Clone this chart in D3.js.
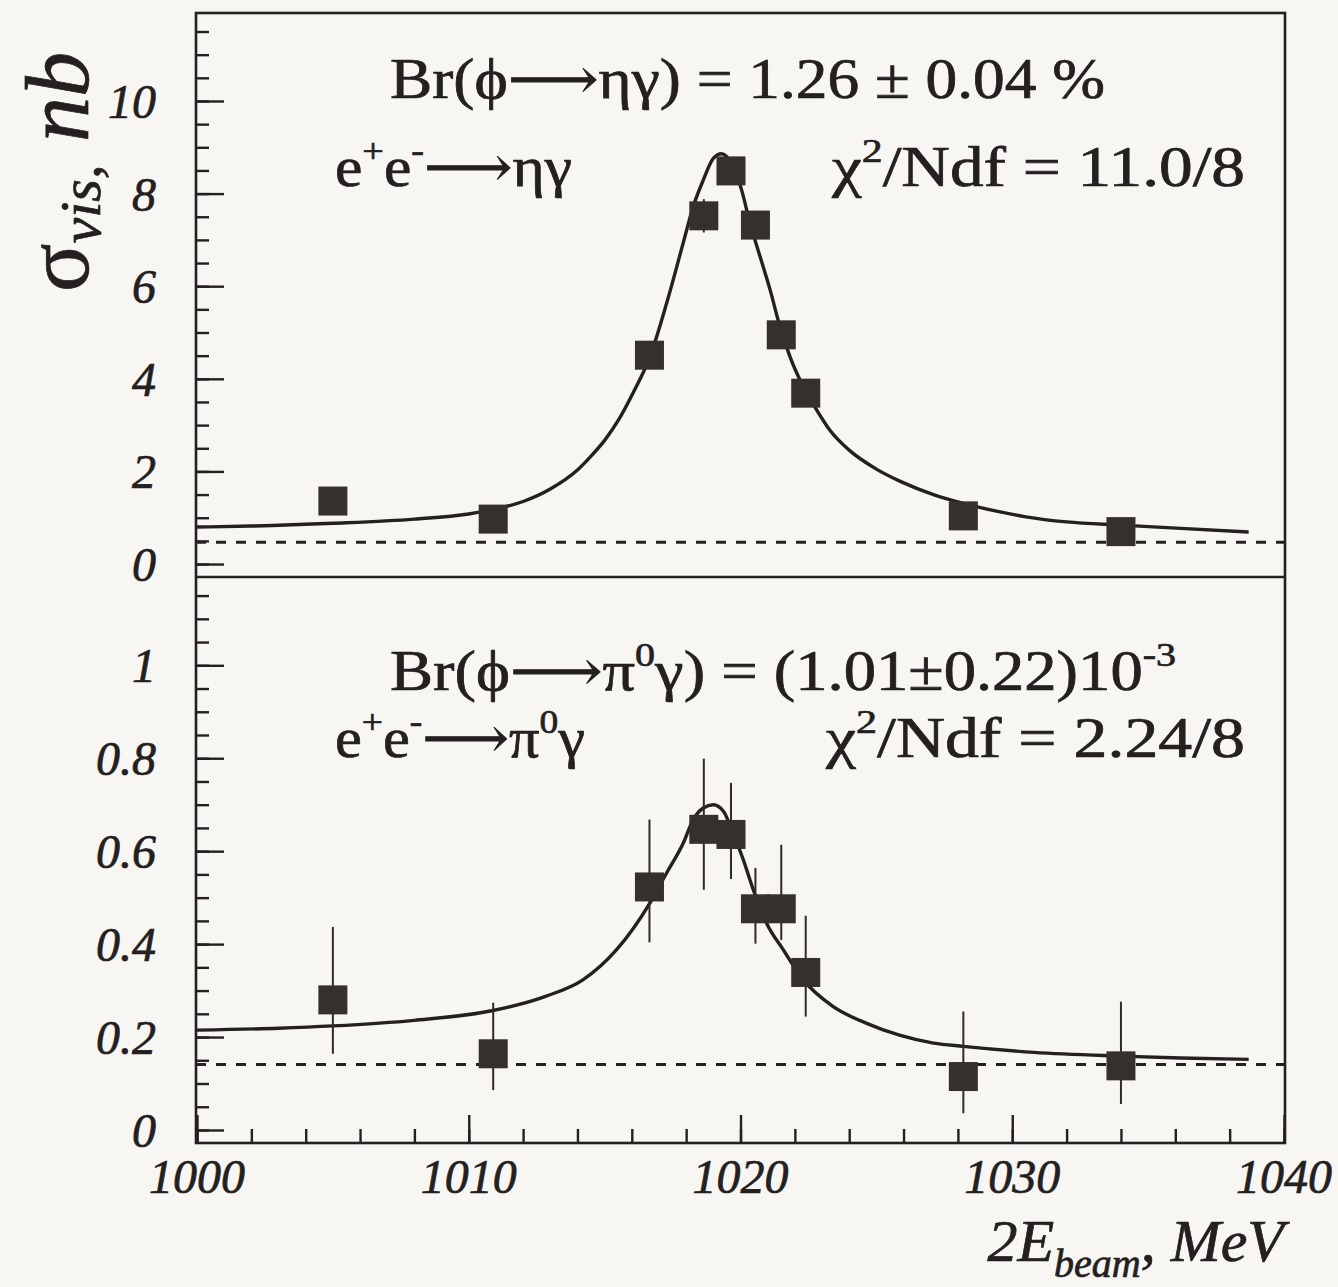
<!DOCTYPE html>
<html lang="en">
	<head>
		<meta charset="utf-8">
		<title>phi -> eta gamma, pi0 gamma visible cross sections</title>
		<script src="https://d3js.org/d3.v7.min.js"></script>
		<style type="text/css">
			body {
				margin: 0;
				background: #f7f6f2;
			}
			svg text {
				font-family: "Liberation Serif", "DejaVu Serif", serif;
				fill: #242020;
				stroke: #242020;
				stroke-width: 0.7px;
			}
		</style>
	</head>
	<body>
		<script type="text/javascript">
			//Beam energy points (2E_beam, MeV), shared by both panels
			var energy = [1005.0, 1010.9, 1016.65, 1018.65, 1019.65, 1020.55, 1021.5, 1022.4, 1028.2, 1034.0];

			//Upper panel, e+e- -> eta gamma (nb)
			var etaSigma = [1.36, 0.97, 4.51, 7.52, 8.49, 7.32, 4.95, 3.69, 1.04, 0.70];
			var etaErr = [0.12, 0.10, 0.20, 0.36, 0.30, 0.30, 0.25, 0.20, 0.10, 0.08];

			//Lower panel, e+e- -> pi0 gamma (nb), error bar ends
			var pi0Sigma = [0.280, 0.164, 0.523, 0.647, 0.636, 0.476, 0.476, 0.339, 0.115, 0.138];
			var pi0Lo = [0.164, 0.086, 0.404, 0.517, 0.540, 0.401, 0.409, 0.244, 0.036, 0.056];
			var pi0Hi = [0.437, 0.274, 0.668, 0.799, 0.747, 0.564, 0.614, 0.461, 0.255, 0.276];

			//Fit curves
			var etaCurveE = [1000, 1002, 1005, 1008, 1010, 1011, 1012, 1013, 1014, 1014.5, 1015, 1015.5, 1016.05, 1016.67, 1017.28, 1017.89, 1018.26, 1018.63, 1019.0, 1019.3, 1019.67, 1020.04, 1020.35, 1020.72, 1021.09, 1021.45, 1021.82, 1022.31, 1022.8, 1023.29, 1024, 1025, 1025.9, 1027.1, 1028.2, 1029.6, 1030.5, 1032, 1034, 1036.2, 1038.7];
			var etaCurveS = [0.80, 0.82, 0.88, 0.97, 1.08, 1.19, 1.35, 1.62, 2.03, 2.33, 2.67, 3.10, 3.70, 4.48, 5.63, 6.93, 7.72, 8.29, 8.76, 8.86, 8.65, 8.08, 7.36, 6.64, 5.92, 5.13, 4.48, 3.83, 3.33, 2.89, 2.46, 2.05, 1.78, 1.50, 1.31, 1.12, 1.02, 0.91, 0.84, 0.77, 0.69];
			var pi0CurveE = [1000, 1003, 1005, 1008, 1010.8, 1012.8, 1014.2, 1015.44, 1016.67, 1017.28, 1017.9, 1018.26, 1018.63, 1019.0, 1019.37, 1019.73, 1020.1, 1020.47, 1020.96, 1021.57, 1022.31, 1023.4, 1024.62, 1025.85, 1027.1, 1028.2, 1030.8, 1034.0, 1036.2, 1038.7];
			var pi0CurveS = [0.215, 0.219, 0.224, 0.236, 0.256, 0.287, 0.323, 0.388, 0.489, 0.553, 0.618, 0.668, 0.693, 0.700, 0.686, 0.639, 0.582, 0.517, 0.445, 0.388, 0.323, 0.266, 0.230, 0.204, 0.187, 0.180, 0.167, 0.159, 0.155, 0.152];

			//Background levels (dashed)
			var etaBg = 0.47;
			var pi0Bg = 0.141;

			//Axis ticks
			var xTicks = [1000, 1010, 1020, 1030, 1040];
			var etaTicks = [0, 2, 4, 6, 8, 10];
			var pi0Ticks = [0, 0.2, 0.4, 0.6, 0.8, 1];
			var pi0TickLabels = ["0", "0.2", "0.4", "0.6", "0.8", "1"];

			//Texts, as [string, "sup" | null]
			var arrow = "\u27F6";
			var etaBr = [["Br(\u03D5" + arrow + "\u03B7\u03B3) = 1.26 \u00B1 0.04 %", null]];
			var etaReaction = [["e", null], ["+", "sup"], ["e", null], ["-", "sup"], [arrow + "\u03B7\u03B3", null]];
			var etaChi = [["\u03C7", null], ["2", "sup"], ["/Ndf = 11.0/8", null]];
			var pi0Br = [["Br(\u03D5" + arrow + "\u03C0", null], ["0", "sup"], ["\u03B3) = (1.01\u00B10.22)10", null], ["-3", "sup"]];
			var pi0Reaction = [["e", null], ["+", "sup"], ["e", null], ["-", "sup"], [arrow + "\u03C0", null], ["0", "sup"], ["\u03B3", null]];
			var pi0Chi = [["\u03C7", null], ["2", "sup"], ["/Ndf = 2.24/8", null]];

			//Width and height
			var w = 1338;
			var h = 1287;
			var ink = "#242020";

			//Frame edges
			var fLeft = 196, fRight = 1285, fTop = 13, fMid = 577, fBottom = 1143;

			var x = d3.scaleLinear()
				.domain([1000, 1040])
				.range([197, 1284]);

			var yEta = d3.scaleLinear()
				.domain([-0.28, 11.9])
				.range([fMid, fTop]);

			var yPi0 = d3.scaleLinear()
				.domain([-0.028, 1.19])
				.range([fBottom, fMid]);

			var svg = d3.select("body")
				.append("svg")
				.attr("width", w)
				.attr("height", h);

			svg.append("rect")
				.attr("width", w)
				.attr("height", h)
				.attr("fill", "#f7f6f2");

			//Left axes with inner ticks, minor and major in their own groups
			function leftAxis(y, ticks, labels, minorStep, yMax) {
				var minor = d3.range(0, yMax + 1e-9, minorStep);
				var gMinor = svg.append("g")
					.attr("transform", "translate(" + fLeft + ",0)")
					.call(d3.axisRight(y)
						.tickValues(minor)
						.tickSize(13)
						.tickFormat(""));
				var gMajor = svg.append("g")
					.attr("transform", "translate(" + fLeft + ",0)")
					.call(d3.axisRight(y)
						.tickValues(ticks)
						.tickSize(28)
						.tickFormat(""));
				[gMinor, gMajor].forEach(function(g) {
					g.selectAll(".domain").remove();
					g.selectAll("line")
						.attr("stroke", ink)
						.attr("stroke-width", 2.4);
				});
				gMajor.selectAll(".lbl")
					.data(ticks)
					.enter()
					.append("text")
					.attr("class", "lbl")
					.attr("x", -40)
					.attr("y", function(d) { return y(d) + 17; })
					.attr("text-anchor", "end")
					.attr("font-size", 48)
					.attr("font-style", "italic")
					.text(function(d, i) { return labels[i]; });
			}

			leftAxis(yEta, etaTicks, etaTicks.map(String), 0.5, 11.5);
			leftAxis(yPi0, pi0Ticks, pi0TickLabels, 0.05, 1.15);

			//Bottom axis, ticks pointing up
			var gxMinor = svg.append("g")
				.attr("transform", "translate(0," + fBottom + ")")
				.call(d3.axisTop(x)
					.tickValues(d3.range(1000, 1041, 2))
					.tickSize(14)
					.tickFormat(""));
			var gxMajor = svg.append("g")
				.attr("transform", "translate(0," + fBottom + ")")
				.call(d3.axisTop(x)
					.tickValues(xTicks)
					.tickSize(28)
					.tickFormat(""));
			[gxMinor, gxMajor].forEach(function(g) {
				g.selectAll(".domain").remove();
				g.selectAll("line")
					.attr("stroke", ink)
					.attr("stroke-width", 2.4);
			});
			gxMajor.selectAll(".lbl")
				.data(xTicks)
				.enter()
				.append("text")
				.attr("class", "lbl")
				.attr("x", function(d) { return x(d); })
				.attr("y", 50)
				.attr("text-anchor", "middle")
				.attr("font-size", 48)
				.attr("font-style", "italic")
				.text(function(d) { return d; });

			//Frame lines
			svg.append("rect")
				.attr("x", fLeft)
				.attr("y", fTop)
				.attr("width", fRight - fLeft)
				.attr("height", fBottom - fTop)
				.attr("fill", "none")
				.attr("stroke", ink)
				.attr("stroke-width", 2.6);
			svg.append("line")
				.attr("x1", fLeft)
				.attr("x2", fRight)
				.attr("y1", fMid)
				.attr("y2", fMid)
				.attr("stroke", ink)
				.attr("stroke-width", 2.6);

			//One panel: dashed background, fit curve, error bars, squares
			function panel(y, bg, curveE, curveS, sig, lo, hi) {
				var g = svg.append("g");

				g.append("line")
					.attr("x1", fLeft)
					.attr("x2", fRight)
					.attr("y1", y(bg))
					.attr("y2", y(bg))
					.attr("stroke", ink)
					.attr("stroke-width", 3)
					.attr("stroke-dasharray", "10,10");

				var line = d3.line()
					.x(function(d) { return x(d[0]); })
					.y(function(d) { return y(d[1]); })
					.curve(d3.curveMonotoneX);

				g.append("path")
					.attr("d", line(d3.zip(curveE, curveS)))
					.attr("fill", "none")
					.attr("stroke", ink)
					.attr("stroke-width", 3.4);

				g.selectAll(".err")
					.data(energy)
					.enter()
					.append("line")
					.attr("class", "err")
					.attr("x1", function(d) { return x(d); })
					.attr("x2", function(d) { return x(d); })
					.attr("y1", function(d, i) { return y(lo[i]); })
					.attr("y2", function(d, i) { return y(hi[i]); })
					.attr("stroke", "#302b28")
					.attr("stroke-width", 2);

				g.selectAll(".pt")
					.data(energy)
					.enter()
					.append("rect")
					.attr("class", "pt")
					.attr("x", function(d) { return x(d) - 14.5; })
					.attr("y", function(d, i) { return y(sig[i]) - 14.5; })
					.attr("width", 29)
					.attr("height", 29)
					.attr("fill", "#35302d");
			}

			panel(yEta, etaBg, etaCurveE, etaCurveS, etaSigma,
				etaSigma.map(function(d, i) { return d - etaErr[i]; }),
				etaSigma.map(function(d, i) { return d + etaErr[i]; }));
			panel(yPi0, pi0Bg, pi0CurveE, pi0CurveS, pi0Sigma, pi0Lo, pi0Hi);

			//Rich text with superscripts, stretched to the width
			function label(parts, xPos, yPos, size, len) {
				var t = svg.append("text")
					.attr("x", xPos)
					.attr("y", yPos)
					.attr("font-size", size);
				var raised = false;
				parts.forEach(function(p) {
					var s = t.append("tspan").text(p[0]);
					if (p[1] == "sup") {
						s.attr("font-size", size * 0.62).attr("dy", raised ? 0 : -size * 0.42);
						raised = true;
					} else {
						s.attr("dy", raised ? size * 0.42 : 0);
						raised = false;
					}
				});
				if (len) {
					t.attr("textLength", len).attr("lengthAdjust", "spacingAndGlyphs");
				}
				return t;
			}

			label(etaBr, 390, 98, 56, 715);
			label(etaReaction, 335, 186, 56, 237);
			label(etaChi, 832, 186, 56, 413);
			label(pi0Br, 390, 690, 56, 786);
			label(pi0Reaction, 335, 757, 56, 250);
			label(pi0Chi, 826, 757, 56, 419);

			//Y axis title
			var yt = svg.append("text")
				.attr("transform", "translate(88,292) rotate(-90)")
				.attr("font-size", 90);
			yt.append("tspan").text("\u03C3");
			yt.append("tspan")
				.attr("font-size", 58)
				.attr("font-style", "italic")
				.attr("dy", 12)
				.text("vis,");
			yt.append("tspan")
				.attr("font-style", "italic")
				.attr("dy", -12)
				.text(" nb");

			//X axis title
			var xt = svg.append("text")
				.attr("x", 1284)
				.attr("y", 1261)
				.attr("text-anchor", "end")
				.attr("font-size", 60)
				.attr("font-style", "italic");
			xt.append("tspan").text("2E");
			xt.append("tspan")
				.attr("font-size", 40)
				.attr("dy", 16)
				.text("beam");
			xt.append("tspan")
				.attr("dy", -16)
				.text(", MeV");

		</script>
	</body>
</html>
